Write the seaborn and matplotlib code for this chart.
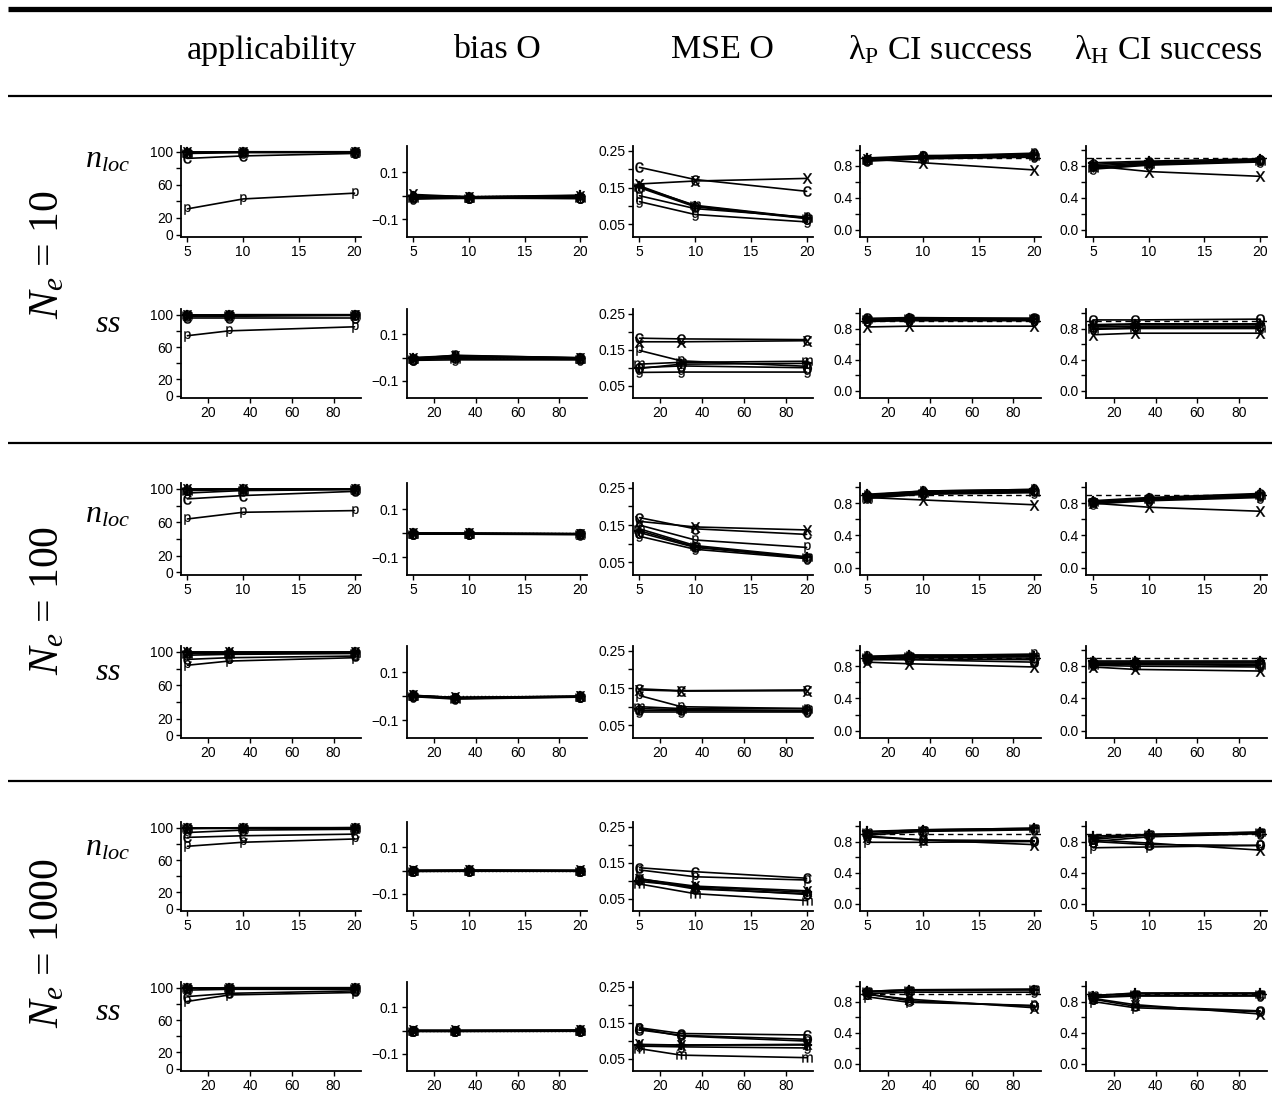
import numpy as np
import pandas as pd
import matplotlib
matplotlib.use("Agg")
import matplotlib.pyplot as plt
from matplotlib.lines import Line2D
import seaborn as sns

# ---------------- data ----------------
EST = ['c', 'p', 'm', 'g', 'x', 'o', '+']
X_NLOC = [5, 10, 20]
X_SS = [10, 30, 90]

COL_TITLES = ['applicability', 'bias O', 'MSE O',
              'λ$_{\\mathrm{P}}$ CI success', 'λ$_{\\mathrm{H}}$ CI success']
NE_LABELS = ['10', '100', '1000']

# applicability (%)
APP_NE10_NLOC = {'c': [92, 95, 98], 'p': [31, 43, 50], 'm': [99, 100, 100], 'g': [98, 99, 99],
                 'x': [100, 100, 100], 'o': [99, 100, 100], '+': [100, 100, 100]}
APP_NE10_SS = {'c': [96, 96, 96], 'p': [74, 80, 85], 'm': [99, 99, 99], 'g': [98, 98, 99],
               'x': [100, 100, 100], 'o': [99, 100, 100], '+': [100, 100, 100]}
APP_NE100_NLOC = {'c': [88, 92, 97], 'p': [64, 72, 74], 'm': [98, 99, 100], 'g': [95, 98, 99],
                  'x': [100, 100, 100], 'o': [99, 100, 100], '+': [100, 100, 100]}
APP_NE100_SS = {'c': [91, 93, 95], 'p': [84, 89, 93], 'm': [98, 98, 99], 'g': [96, 97, 98],
                'x': [100, 100, 100], 'o': [99, 99, 100], '+': [100, 100, 100]}
APP_NE1000_NLOC = {'c': [88, 90, 92], 'p': [77, 82, 86], 'm': [99, 99, 100], 'g': [94, 97, 98],
                   'x': [100, 100, 100], 'o': [99, 100, 100], '+': [100, 100, 100]}
APP_NE1000_SS = {'c': [89, 93, 96], 'p': [83, 91, 94], 'm': [99, 99, 99], 'g': [97, 98, 98],
                 'x': [100, 100, 100], 'o': [99, 100, 100], '+': [100, 100, 100]}

# bias O
BIAS_NE10_NLOC = {'c': [-0.005, -0.010, -0.012], 'p': [0.000, -0.005, -0.005], 'm': [-0.010, -0.012, -0.010],
                  'g': [-0.015, -0.010, -0.012], 'x': [0.005, -0.005, 0.000], 'o': [-0.008, -0.010, -0.008],
                  '+': [0.000, -0.005, 0.002]}
BIAS_NE10_SS = {'c': [-0.010, 0.005, -0.005], 'p': [-0.005, 0.010, -0.002], 'm': [-0.008, -0.005, -0.008],
                'g': [-0.012, -0.010, -0.010], 'x': [0.000, 0.008, 0.000], 'o': [-0.005, 0.000, -0.004],
                '+': [-0.002, 0.006, -0.002]}
BIAS_NE100_NLOC = {'c': [-0.002, -0.002, -0.004], 'p': [0.000, -0.001, -0.003], 'm': [-0.003, -0.003, -0.005],
                   'g': [-0.004, -0.004, -0.006], 'x': [0.001, 0.000, -0.002], 'o': [-0.002, -0.002, -0.004],
                   '+': [0.000, 0.000, -0.002]}
BIAS_NE100_SS = {'c': [0.002, -0.008, -0.002], 'p': [0.004, -0.006, 0.000], 'm': [0.000, -0.010, -0.003],
                 'g': [-0.002, -0.012, -0.004], 'x': [0.003, -0.005, 0.000], 'o': [0.001, -0.008, -0.002],
                 '+': [0.003, -0.006, -0.001]}
BIAS_NE1000_NLOC = {'c': [-0.002, -0.001, -0.002], 'p': [0.000, 0.001, 0.000], 'm': [-0.003, -0.002, -0.003],
                    'g': [-0.004, -0.003, -0.003], 'x': [0.001, 0.002, 0.001], 'o': [-0.002, -0.001, -0.001],
                    '+': [0.000, 0.001, 0.000]}
BIAS_NE1000_SS = {'c': [-0.002, -0.002, -0.001], 'p': [0.000, 0.000, 0.001], 'm': [-0.003, -0.003, -0.002],
                  'g': [-0.004, -0.004, -0.003], 'x': [0.001, 0.001, 0.002], 'o': [-0.002, -0.002, -0.001],
                  '+': [0.000, 0.000, 0.001]}

# MSE O
MSE_NE10_NLOC = {'c': [0.205, 0.172, 0.140], 'p': [0.128, 0.093, 0.070], 'm': [0.152, 0.102, 0.068],
                 'g': [0.112, 0.077, 0.057], 'x': [0.160, 0.168, 0.175], 'o': [0.150, 0.098, 0.066],
                 '+': [0.155, 0.100, 0.067]}
MSE_NE10_SS = {'c': [0.182, 0.180, 0.178], 'p': [0.148, 0.119, 0.104], 'm': [0.110, 0.115, 0.118],
               'g': [0.087, 0.088, 0.088], 'x': [0.172, 0.172, 0.175], 'o': [0.100, 0.105, 0.100],
               '+': [0.098, 0.110, 0.112]}
MSE_NE100_NLOC = {'c': [0.170, 0.140, 0.125], 'p': [0.150, 0.110, 0.090], 'm': [0.140, 0.095, 0.065],
                  'g': [0.120, 0.085, 0.060], 'x': [0.160, 0.145, 0.137], 'o': [0.130, 0.090, 0.062],
                  '+': [0.135, 0.092, 0.063]}
MSE_NE100_SS = {'c': [0.148, 0.143, 0.145], 'p': [0.130, 0.100, 0.095], 'm': [0.100, 0.095, 0.095],
                'g': [0.085, 0.085, 0.085], 'x': [0.145, 0.142, 0.143], 'o': [0.090, 0.090, 0.088],
                '+': [0.095, 0.092, 0.090]}
MSE_NE1000_NLOC = {'c': [0.136, 0.125, 0.107], 'p': [0.130, 0.111, 0.102], 'm': [0.091, 0.064, 0.045],
                   'g': [0.103, 0.077, 0.064], 'x': [0.105, 0.085, 0.072], 'o': [0.106, 0.080, 0.062],
                   '+': [0.098, 0.083, 0.068]}
MSE_NE1000_SS = {'c': [0.136, 0.120, 0.116], 'p': [0.134, 0.113, 0.099], 'm': [0.078, 0.060, 0.053],
                 'g': [0.085, 0.083, 0.080], 'x': [0.090, 0.088, 0.090], 'o': [0.130, 0.115, 0.104],
                 '+': [0.087, 0.087, 0.087]}

# lambda_P CI success
LP_NE10_NLOC = {'c': [0.87, 0.91, 0.93], 'p': [0.88, 0.92, 0.96], 'm': [0.87, 0.90, 0.92], 'g': [0.86, 0.89, 0.91],
                'x': [0.89, 0.84, 0.75], 'o': [0.88, 0.92, 0.95], '+': [0.90, 0.93, 0.94]}
LP_NE10_SS = {'c': [0.90, 0.91, 0.91], 'p': [0.91, 0.92, 0.92], 'm': [0.92, 0.93, 0.93], 'g': [0.89, 0.90, 0.90],
              'x': [0.82, 0.83, 0.83], 'o': [0.93, 0.94, 0.93], '+': [0.92, 0.93, 0.92]}
LP_NE100_NLOC = {'c': [0.88, 0.93, 0.95], 'p': [0.90, 0.95, 0.97], 'm': [0.87, 0.92, 0.94], 'g': [0.86, 0.91, 0.93],
                 'x': [0.87, 0.84, 0.78], 'o': [0.89, 0.94, 0.96], '+': [0.91, 0.95, 0.97]}
LP_NE100_SS = {'c': [0.90, 0.91, 0.90], 'p': [0.92, 0.93, 0.95], 'm': [0.91, 0.92, 0.92], 'g': [0.89, 0.89, 0.88],
               'x': [0.85, 0.83, 0.79], 'o': [0.88, 0.88, 0.85], '+': [0.92, 0.94, 0.93]}
LP_NE1000_NLOC = {'c': [0.90, 0.94, 0.96], 'p': [0.79, 0.79, 0.80], 'm': [0.92, 0.95, 0.97], 'g': [0.88, 0.93, 0.95],
                  'x': [0.86, 0.82, 0.76], 'o': [0.87, 0.82, 0.81], '+': [0.93, 0.95, 0.97]}
LP_NE1000_SS = {'c': [0.92, 0.94, 0.95], 'p': [0.86, 0.79, 0.75], 'm': [0.93, 0.95, 0.96], 'g': [0.90, 0.92, 0.92],
                'x': [0.89, 0.83, 0.72], 'o': [0.90, 0.81, 0.74], '+': [0.93, 0.95, 0.95]}

# lambda_H CI success
LH_NE10_NLOC = {'c': [0.82, 0.85, 0.87], 'p': [0.77, 0.82, 0.86], 'm': [0.78, 0.83, 0.86], 'g': [0.76, 0.81, 0.85],
                'x': [0.80, 0.73, 0.67], 'o': [0.80, 0.84, 0.88], '+': [0.84, 0.86, 0.89]}
LH_NE10_SS = {'c': [0.82, 0.83, 0.83], 'p': [0.84, 0.85, 0.85], 'm': [0.80, 0.81, 0.81], 'g': [0.79, 0.80, 0.80],
              'x': [0.72, 0.74, 0.74], 'o': [0.91, 0.91, 0.92], '+': [0.85, 0.86, 0.86]}
LH_NE100_NLOC = {'c': [0.82, 0.85, 0.89], 'p': [0.80, 0.84, 0.88], 'm': [0.81, 0.85, 0.90], 'g': [0.79, 0.83, 0.87],
                 'x': [0.80, 0.75, 0.70], 'o': [0.81, 0.86, 0.91], '+': [0.83, 0.87, 0.92]}
LH_NE100_SS = {'c': [0.83, 0.83, 0.82], 'p': [0.85, 0.85, 0.85], 'm': [0.82, 0.82, 0.81], 'g': [0.81, 0.80, 0.79],
               'x': [0.79, 0.76, 0.74], 'o': [0.84, 0.84, 0.84], '+': [0.86, 0.86, 0.86]}
LH_NE1000_NLOC = {'c': [0.83, 0.88, 0.91], 'p': [0.72, 0.73, 0.75], 'm': [0.85, 0.89, 0.92], 'g': [0.80, 0.86, 0.90],
                  'x': [0.82, 0.78, 0.69], 'o': [0.80, 0.76, 0.75], '+': [0.87, 0.89, 0.92]}
LH_NE1000_SS = {'c': [0.86, 0.88, 0.88], 'p': [0.80, 0.72, 0.67], 'm': [0.88, 0.90, 0.90], 'g': [0.85, 0.87, 0.87],
                'x': [0.84, 0.76, 0.64], 'o': [0.83, 0.74, 0.68], '+': [0.87, 0.91, 0.91]}

ROWS = [
    [APP_NE10_NLOC, BIAS_NE10_NLOC, MSE_NE10_NLOC, LP_NE10_NLOC, LH_NE10_NLOC],
    [APP_NE10_SS, BIAS_NE10_SS, MSE_NE10_SS, LP_NE10_SS, LH_NE10_SS],
    [APP_NE100_NLOC, BIAS_NE100_NLOC, MSE_NE100_NLOC, LP_NE100_NLOC, LH_NE100_NLOC],
    [APP_NE100_SS, BIAS_NE100_SS, MSE_NE100_SS, LP_NE100_SS, LH_NE100_SS],
    [APP_NE1000_NLOC, BIAS_NE1000_NLOC, MSE_NE1000_NLOC, LP_NE1000_NLOC, LH_NE1000_NLOC],
    [APP_NE1000_SS, BIAS_NE1000_SS, MSE_NE1000_SS, LP_NE1000_SS, LH_NE1000_SS],
]

# ---------------- style ----------------
sns.set_style("ticks")
plt.rcParams['font.family'] = ['Liberation Sans', 'DejaVu Sans']
plt.rcParams['text.color'] = 'black'
plt.rcParams['axes.labelcolor'] = 'black'
plt.rcParams['xtick.color'] = 'black'
plt.rcParams['ytick.color'] = 'black'
plt.rcParams['mathtext.fontset'] = 'custom'
plt.rcParams['mathtext.rm'] = 'Liberation Serif'
plt.rcParams['mathtext.it'] = 'Liberation Serif:italic'
plt.rcParams['mathtext.sf'] = 'Liberation Sans'
plt.rcParams['mathtext.bf'] = 'Liberation Serif:bold'

W, H = 1272, 1117
fig = plt.figure(figsize=(W / 100, H / 100), dpi=100)

col_left = [180.7, 406.5, 632.8, 860.5, 1086.3]
col_w = 180.5
row_box = [(146, 237), (309, 398), (483, 575), (646, 738), (822, 911), (982, 1071)]

marker_map = {e: '$\\mathsf{%s}$' % e for e in EST}

ylims = [(-3, 107), (-0.175, 0.21), (0.016, 0.263), (-0.09, 1.05), (-0.09, 1.05)]
yticks = [[0, 20, 40, 60, 80, 100], [-0.1, 0.0, 0.1], [0.05, 0.10, 0.15, 0.20, 0.25],
          [0.0, 0.2, 0.4, 0.6, 0.8, 1.0], [0.0, 0.2, 0.4, 0.6, 0.8, 1.0]]
ylabels = [['0', '20', '', '60', '', '100'], ['\u22120.1', '', '0.1'], ['0.05', '', '0.15', '', '0.25'],
           ['0.0', '', '0.4', '', '0.8', ''], ['0.0', '', '0.4', '', '0.8', '']]

for r, row in enumerate(ROWS):
    xs = X_NLOC if r % 2 == 0 else X_SS
    top, bot = row_box[r]
    for c, panel in enumerate(row):
        ax = fig.add_axes([col_left[c] / W, 1 - bot / H, col_w / W, (bot - top) / H])
        recs = []
        for e in EST:
            for xv, yv in zip(xs, panel[e]):
                recs.append({'x': xv, 'y': yv, 'est': e})
        df = pd.DataFrame(recs)
        sns.lineplot(data=df, x='x', y='y', style='est', markers=marker_map, dashes=False,
                     color='black', legend=False, ax=ax, linewidth=1.2, markersize=7.5,
                     markeredgecolor='black', markerfacecolor='black', markeredgewidth=0.15)
        if c == 1:
            ax.axhline(0.0, ls=':', color='black', lw=1.0)
        if c >= 3:
            ax.axhline(0.9, ls=(0, (4, 3)), color='black', lw=1.0)
        if r % 2 == 0:
            ax.set_xlim(4.4, 20.6)
            ax.set_xticks([5, 10, 15, 20])
        else:
            ax.set_xlim(6.8, 93.2)
            ax.set_xticks([20, 40, 60, 80])
        ax.set_ylim(*ylims[c])
        ax.set_yticks(yticks[c])
        ax.set_yticklabels(ylabels[c])
        ax.set_xlabel('')
        ax.set_ylabel('')
        for s in ['top', 'right']:
            ax.spines[s].set_visible(False)
        for s in ['left', 'bottom']:
            ax.spines[s].set_linewidth(1.3)
            ax.spines[s].set_color('black')
        ax.tick_params(axis='both', direction='out', length=3.5, width=1, labelsize=10,
                       pad=2, colors='black', labelcolor='black')
        ax.set_facecolor('none')

# column titles
title_x = [272, 497, 722, 940, 1168]
for t, xc in zip(COL_TITLES, title_x):
    fig.text(xc / W, 1 - 50 / H, t, ha='center', va='center', fontsize=24.5,
             family='Liberation Serif', color='black')

# horizontal rules
def hline(y, lw):
    fig.add_artist(Line2D([8 / W, 1.0], [1 - y / H, 1 - y / H], transform=fig.transFigure,
                          color='black', lw=lw, solid_capstyle='butt'))

hline(9, 3.8)
hline(96, 1.6)
hline(443, 1.6)
hline(781, 1.6)

# big Ne labels
ne_y = [255, 600, 943]
for lab, yc in zip(NE_LABELS, ne_y):
    fig.text(48 / W, 1 - yc / H, '$\\mathit{N}_{\\mathit{e}}$ = ' + lab, rotation=90,
             ha='center', va='center', fontsize=30, family='Liberation Serif', color='black')

# row sub labels
sub_y = [160, 325, 515, 672, 848, 1012]
for r, yc in enumerate(sub_y):
    lab = '$\\mathit{n}_{\\mathit{loc}}$' if r % 2 == 0 else '$\\mathit{ss}$'
    fig.text(108 / W, 1 - yc / H, lab, ha='center', va='center', fontsize=23,
             family='Liberation Serif', color='black')

fig.savefig('out.png', dpi=100, facecolor='white')
